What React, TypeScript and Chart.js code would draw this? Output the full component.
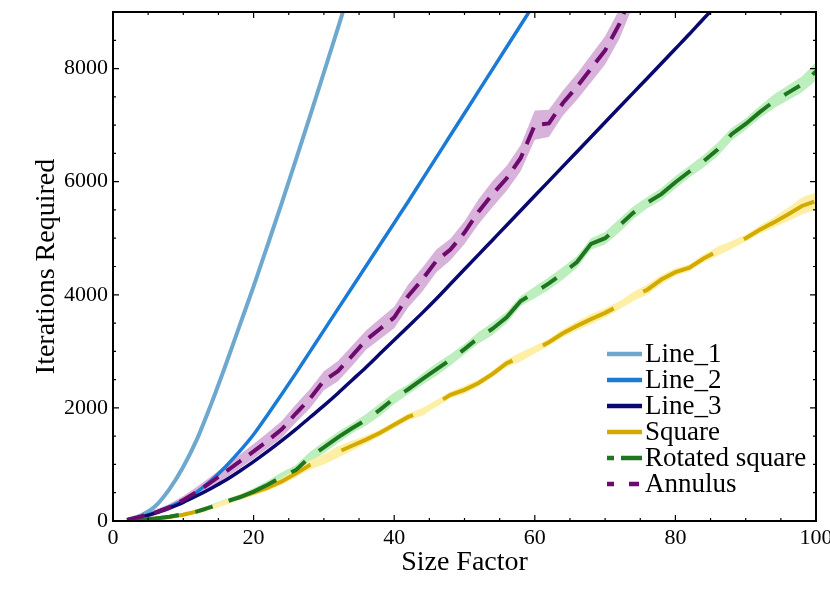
import React, { useEffect, useRef } from 'react';
import { Chart, registerables } from 'chart.js';

Chart.register(...registerables);

// size factor sampled every 2 units
const SIZE = [
  2, 4, 6, 8, 10, 12, 14, 16, 18, 20, 22, 24, 26, 28, 30, 32, 34, 36, 38, 40, 42, 44, 46, 48, 50,
  52, 54, 56, 58, 60, 62, 64, 66, 68, 70, 72, 74, 76, 78, 80, 82, 84, 86, 88, 90, 92, 94, 96, 98, 100,
];

// reference curves (run past the top of the plot, clipped there)
const LINE_1 = [20, 100, 260, 560, 960, 1460, 2080, 2750, 3450, 4150, 4880, 5620, 6380, 7150, 7930, 8720, 9520];
const LINE_2 = [
  15, 70, 150, 250, 360, 520, 720, 960, 1230, 1530, 1880, 2240, 2610, 2990, 3370, 3750, 4130, 4510, 4890, 5270,
  5650, 6040, 6430, 6820, 7210, 7600, 7990, 8380, 8770, 9160,
];
const LINE_3 = [
  20, 70, 140, 230, 330, 450, 580, 720, 880, 1050, 1230, 1420, 1620, 1830, 2040, 2260, 2490, 2720, 2960, 3200,
  3440, 3680, 3930, 4190, 4450, 4710, 4970, 5230, 5490, 5750, 6010, 6270, 6530, 6790, 7050, 7310, 7570, 7830,
  8090, 8350, 8610, 8880, 9140,
];

// measured series + spread
const SQUARE = [
  10, 25, 45, 70, 110, 170, 240, 330, 420, 500, 590, 700, 840, 990, 1090, 1220, 1330, 1440, 1560, 1700,
  1840, 1930, 2080, 2230, 2320, 2440, 2600, 2790, 2900, 3030, 3160, 3320, 3450, 3570, 3680, 3810, 3970, 4090, 4270, 4400,
  4480, 4640, 4770, 4880, 5000, 5150, 5280, 5420, 5570, 5660,
];
const SQUARE_ERR = [
  10, 15, 20, 25, 30, 35, 40, 45, 50, 55, 60, 60, 70, 80, 90, 100, 90, 70, 60, 60,
  60, 70, 60, 60, 70, 60, 60, 70, 80, 70, 60, 70, 80, 90, 80, 70, 80, 90, 80, 70,
  60, 70, 80, 70, 60, 70, 90, 120, 150, 150,
];
const ROTATED = [
  10, 25, 45, 75, 120, 170, 250, 340, 420, 520, 640, 780, 900, 1130, 1300, 1480, 1640, 1790, 1970, 2170,
  2330, 2510, 2680, 2850, 3040, 3240, 3400, 3600, 3890, 4040, 4200, 4380, 4580, 4900, 5000, 5220, 5450, 5630, 5780, 5990,
  6180, 6360, 6570, 6840, 7020, 7230, 7420, 7570, 7720, 7950,
];
const ROTATED_ERR = [
  10, 15, 20, 25, 30, 35, 40, 45, 50, 60, 70, 80, 90, 90, 100, 100, 90, 100, 110, 100,
  90, 100, 110, 100, 90, 100, 110, 100, 90, 100, 110, 110, 100, 100, 110, 120, 110, 100, 110, 110,
  100, 110, 120, 110, 100, 110, 120, 130, 140, 160,
];
const ANNULUS = [
  20, 80, 150, 240, 370, 520, 690, 870, 1050, 1230, 1420, 1620, 1900, 2160, 2480, 2650, 2920, 3200, 3400, 3600,
  3980, 4270, 4600, 4800, 5100, 5470, 5780, 6060, 6420, 7000, 7030, 7390, 7680, 8000, 8320, 8780, 9380,
];
const ANNULUS_ERR = [
  20, 40, 50, 60, 70, 90, 100, 110, 120, 130, 140, 150, 160, 170, 170, 180, 180, 170, 180, 190,
  200, 210, 200, 190, 200, 220, 230, 220, 230, 260, 240, 220, 230, 240, 250, 260, 260,
];

const X_LABELS = [0, 20, 40, 60, 80, 100];
const Y_LABELS = [0, 2000, 4000, 6000, 8000];
const X_TICKS = { min: 0, max: 100, major: 20, minor: 5 };
const Y_TICKS = { min: 0, max: 9000, major: 2000, minor: 500 };

const FONT = 'Liberation Serif, Times New Roman, serif';

const pts = (ys: number[], off: number[] = [], sign = 0) =>
  ys.map((y, i) => ({ x: SIZE[i], y: y + sign * (off[i] ?? 0) }));

const line = (label: string, ys: number[], color: string, width: number, order: number, dash: number[] = [], legendDash: number[] = []) => ({
  label,
  data: pts(ys),
  borderColor: color,
  backgroundColor: color,
  borderWidth: width,
  borderDash: dash,
  pointRadius: 0,
  fill: false,
  order,
  cubicInterpolationMode: dash.length ? 'default' : 'monotone',
  tension: 0,
  legendDash,
});

const band = (ys: number[], err: number[], color: string) => [
  { label: '', data: pts(ys, err, 1), fill: '+1', backgroundColor: color, borderWidth: 0, pointRadius: 0, order: 10 },
  { label: '', data: pts(ys, err, -1), fill: false, borderWidth: 0, pointRadius: 0, order: 10 },
];

const frameTicks = {
  id: 'frameTicks',
  afterDatasetsDraw(chart: any) {
    const { ctx, chartArea: a, scales } = chart;
    ctx.save();
    ctx.strokeStyle = '#000';
    ctx.lineWidth = 1.2;
    ctx.beginPath();
    for (let v = X_TICKS.min; v <= X_TICKS.max; v += X_TICKS.minor) {
      const p = scales.x.getPixelForValue(v);
      const len = v % X_TICKS.major === 0 ? 6 : 3;
      ctx.moveTo(p, a.bottom); ctx.lineTo(p, a.bottom - len);
      ctx.moveTo(p, a.top); ctx.lineTo(p, a.top + len);
    }
    for (let v = Y_TICKS.min; v <= Y_TICKS.max; v += Y_TICKS.minor) {
      const p = scales.y.getPixelForValue(v);
      const len = v % Y_TICKS.major === 0 ? 6 : 3;
      ctx.moveTo(a.left, p); ctx.lineTo(a.left + len, p);
      ctx.moveTo(a.right, p); ctx.lineTo(a.right - len, p);
    }
    ctx.stroke();
    ctx.lineWidth = 2;
    ctx.strokeRect(a.left, a.top, a.right - a.left, a.bottom - a.top);
    ctx.restore();
  },
};

const insideLegend = {
  id: 'insideLegend',
  afterDraw(chart: any) {
    const { ctx, chartArea: a } = chart;
    const items = chart.data.datasets.filter((d: any) => d.label);
    const x0 = a.right - 209;
    let y = a.bottom - 167;
    ctx.save();
    ctx.font = `27px ${FONT}`;
    ctx.textBaseline = 'middle';
    ctx.fillStyle = '#000';
    items.forEach((d: any) => {
      ctx.strokeStyle = d.borderColor;
      ctx.lineWidth = 4.5;
      ctx.setLineDash(d.legendDash || []);
      ctx.beginPath();
      ctx.moveTo(x0, y);
      ctx.lineTo(x0 + 35, y);
      ctx.stroke();
      ctx.fillText(d.label, x0 + 38, y + 1);
      y += 26;
    });
    ctx.restore();
  },
};

export default function App() {
  const canvasRef = useRef<HTMLCanvasElement>(null);

  useEffect(() => {
    if (!canvasRef.current) return;
    const chart = new Chart(canvasRef.current, {
      type: 'line',
      data: {
        datasets: [
          line('Line_1', LINE_1, '#6ea8ce', 4, 6),
          line('Line_2', LINE_2, '#1a7ad6', 3.5, 5),
          line('Line_3', LINE_3, '#080870', 3.5, 4),
          line('Square', SQUARE, '#d2aa00', 4, 3, [80, 34]),
          line('Rotated square', ROTATED, '#1e761e', 4, 2, [52, 17, 18, 17], [7, 7, 25, 10]),
          line('Annulus', ANNULUS, '#6e0a6e', 4, 1, [18, 10], [7, 15, 10, 10]),
          ...band(SQUARE, SQUARE_ERR, '#fdf0a6'),
          ...band(ROTATED, ROTATED_ERR, '#bdeebd'),
          ...band(ANNULUS, ANNULUS_ERR, '#d8b2da'),
        ] as any,
      },
      options: {
        animation: false,
        responsive: true,
        maintainAspectRatio: false,
        events: [],
        layout: { padding: { top: 12, right: 14, left: 0, bottom: 0 } },
        plugins: { legend: { display: false }, tooltip: { enabled: false } },
        scales: {
          x: {
            type: 'linear',
            min: X_TICKS.min,
            max: X_TICKS.max,
            grid: { display: false, drawTicks: false },
            border: { display: false },
            ticks: {
              padding: 4, color: '#000', autoSkip: false, maxRotation: 0,
              font: { family: FONT, size: 22 }, callback: (v: any) => String(v),
            },
            afterBuildTicks: (s: any) => { s.ticks = X_LABELS.map((value) => ({ value })); },
            title: { display: true, text: 'Size Factor', color: '#000', font: { family: FONT, size: 28 }, padding: { top: 0, bottom: 19 } },
            afterFit: (s: any) => { s.height = 77; s.paddingLeft = 0; s.paddingRight = 0; },
          },
          y: {
            type: 'linear',
            min: Y_TICKS.min,
            max: Y_TICKS.max,
            grid: { display: false, drawTicks: false },
            border: { display: false },
            ticks: {
              padding: 5, color: '#000', autoSkip: false,
              font: { family: FONT, size: 22 }, callback: (v: any) => String(v),
            },
            afterBuildTicks: (s: any) => { s.ticks = Y_LABELS.map((value) => ({ value })); },
            title: { display: true, text: 'Iterations Required', color: '#000', font: { family: FONT, size: 28 }, padding: { top: 30, bottom: 0 } },
            afterFit: (s: any) => { s.width = 113; s.paddingTop = 0; s.paddingBottom = 0; },
          },
        },
      },
      plugins: [frameTicks, insideLegend],
    });
    return () => chart.destroy();
  }, []);

  return (
    <div style={{ position: 'fixed', left: 0, top: 0, width: 830, height: 598, background: '#fff' }}>
      <canvas ref={canvasRef}></canvas>
    </div>
  );
}
